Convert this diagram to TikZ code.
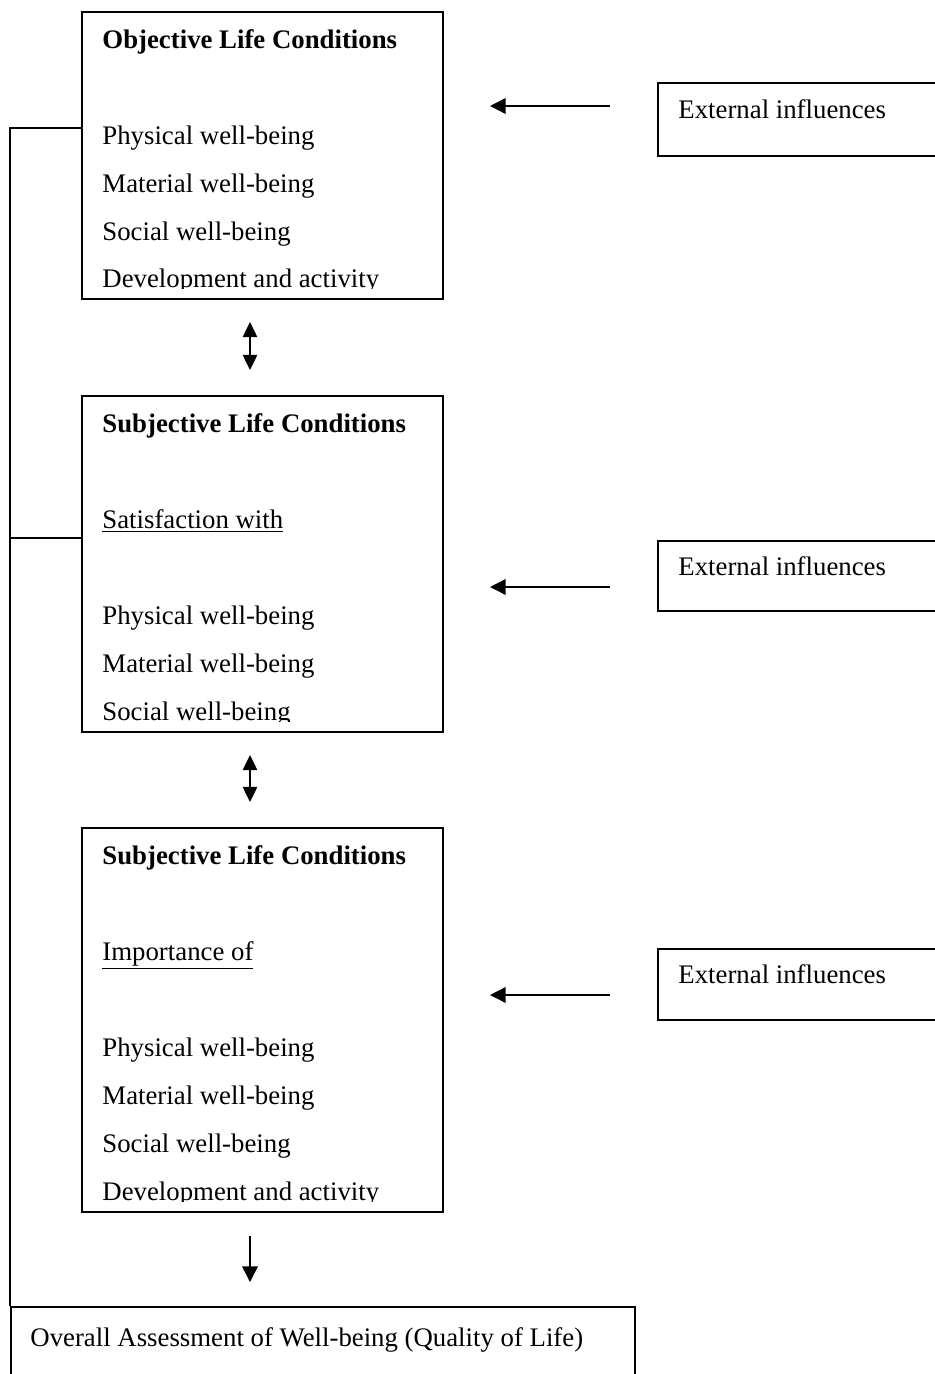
\documentclass[tikz,border=0pt]{standalone}
\usepackage{fontspec}
\setmainfont{Liberation Serif}
\usetikzlibrary{arrows.meta}
\newcommand{\pxu}{0.448pt}
\tikzset{
  box/.style={draw=black, line width=0.8pt, inner sep=0pt, anchor=north west},
  txt/.style={anchor=base west, inner sep=0pt, font=\fontsize{12pt}{14pt}\selectfont},
  txtb/.style={anchor=base west, inner sep=0pt, font=\fontsize{12pt}{14pt}\selectfont\bfseries},
  arr/.style={-{Triangle[length=7pt,width=7pt]}, line width=0.6pt},
  darr/.style={{Triangle[length=6.8pt,width=6.5pt]}-{Triangle[length=6.8pt,width=6.5pt]}, line width=0.6pt},
  lnk/.style={line width=0.8pt}
}

\begin{document}
\begin{tikzpicture}[x=\pxu, y=-\pxu]
  \useasboundingbox (0,0) rectangle (935,1374);
  \clip (0,0) rectangle (935,1374);

  % main boxes
  \node[box, minimum width=361*\pxu, minimum height=287*\pxu] (obj) at (81,11) {};
  \node[box, minimum width=361*\pxu, minimum height=336*\pxu] (sat) at (81,395) {};
  \node[box, minimum width=361*\pxu, minimum height=384*\pxu] (imp) at (81,827) {};
  \node[box, minimum width=624*\pxu, minimum height=100*\pxu] (overall) at (10,1306) {};

  % external influences
  \node[box, minimum width=300*\pxu, minimum height=73*\pxu] (extA) at (657,82) {};
  \node[box, minimum width=300*\pxu, minimum height=70*\pxu] (extB) at (657,540) {};
  \node[box, minimum width=300*\pxu, minimum height=71*\pxu] (extC) at (657,948) {};
  \node[txt] (extAt) at (678,118) {External influences};
  \node[txt] (extBt) at (678,575) {External influences};
  \node[txt] (extCt) at (678,983) {External influences};

  \begin{scope}
    \clip (81,11) rectangle (442,288);
    \node[txtb] (objh) at (102,48) {Objective Life Conditions};
    \node[txt] (obj1) at (102,144) {Physical well-being};
    \node[txt] (obj2) at (102,192) {Material well-being};
    \node[txt] (obj3) at (102,240) {Social well-being};
    \node[txt] (obj4) at (102,287) {Development and activity};
  \end{scope}

  \begin{scope}
    \clip (81,395) rectangle (442,721);
    \node[txtb] (sath) at (102,432) {Subjective Life Conditions};
    \node[txt] (satu) at (102,528) {\underline{Satisfaction with}};
    \node[txt] (sat1) at (102,624) {Physical well-being};
    \node[txt] (sat2) at (102,672) {Material well-being};
    \node[txt] (sat3) at (102,720) {Social well-being};
  \end{scope}

  \begin{scope}
    \clip (81,827) rectangle (442,1201);
    \node[txtb] (imph) at (102,864) {Subjective Life Conditions};
    \node[txt] (impu) at (102,960) {\underline{Importance of}};
    \node[txt] (imp1) at (102,1056) {Physical well-being};
    \node[txt] (imp2) at (102,1104) {Material well-being};
    \node[txt] (imp3) at (102,1152) {Social well-being};
    \node[txt] (imp4) at (102,1200) {Development and activity};
  \end{scope}

  \node[txt] (overallt) at (30,1346) {Overall Assessment of Well-being (Quality of Life)};

  % arrows
  \coordinate (a1s) at (610,106);
  \coordinate (a1e) at (490,106);
  \coordinate (a2s) at (610,587);
  \coordinate (a2e) at (490,587);
  \coordinate (a3s) at (610,995);
  \coordinate (a3e) at (490,995);
  \draw[arr] (a1s) -- (a1e);
  \draw[arr] (a2s) -- (a2e);
  \draw[arr] (a3s) -- (a3e);

  \coordinate (d1s) at (250,322);
  \coordinate (d1e) at (250,370);
  \coordinate (d2s) at (250,755);
  \coordinate (d2e) at (250,802);
  \coordinate (dns) at (250,1236);
  \coordinate (dne) at (250,1282);
  \draw[darr] (d1s) -- (d1e);
  \draw[darr] (d2s) -- (d2e);
  \draw[arr] (dns) -- (dne);

  % left link
  \coordinate (lnk1) at (10,128);
  \coordinate (lnk2) at (10,538);
  \draw[lnk] (lnk1 -| obj.west) -- (lnk1) -- (lnk1 |- overall.north);
  \draw[lnk] (lnk2 -| sat.west) -- (lnk2);
\end{tikzpicture}
\end{document}
